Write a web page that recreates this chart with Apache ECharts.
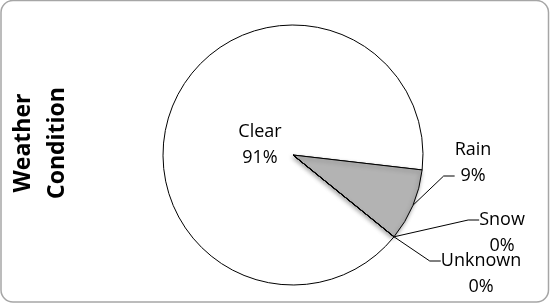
<!DOCTYPE html>
<html>
<head>
<meta charset="utf-8">
<style>
	html,body{ margin:0; padding:0; background:#fff;}
	#mainBox{ width:550px; height:303px;}
</style>
</head>
<body>
<div id="mainBox"></div>
<script src="https://cdn.jsdelivr.net/npm/echarts@6/dist/echarts.min.js"></script>
<script>
var categories=['Clear','Rain','Snow','Unknown'];
var shares=[91,9,0,0];
var sliceColors=['#ffffff','#b3b3b3','#ffffff','#ffffff'];
var titleLines=['Weather','Condition'];

// label centres (x,y); a blank line above/below shifts where the leader line meets the text
var labelSpots=[[260,145],[473,176],[502,220],[481,261]];
var blankLine=['','after','before','before'];

var myChart=echarts.init(document.getElementById('mainBox'));

var seriesData=[];
for(var i=0;i<categories.length;i++){
	var item={
		name:categories[i],
		value:shares[i],
		itemStyle:{color:sliceColors[i]}
	};
	if(i==0){
		item.label={position:'inside'};
		item.labelLine={show:false};
	}
	if(i==1){
		item.itemStyle.shadowColor='rgba(0,0,0,0.35)';
		item.itemStyle.shadowBlur=4;
		item.itemStyle.shadowOffsetX=-1;
		item.itemStyle.shadowOffsetY=2;
	}
	seriesData.push(item);
}

var op={
	animation:false,
	backgroundColor:'#fff',
	graphic:[{
		type:'rect',
		z:-1,
		shape:{x:1,y:0.5,width:547.5,height:301.5,r:12},
		style:{fill:'none',stroke:'#a6a6a6',lineWidth:1.5}
	},{
		type:'text',
		x:40,
		y:143,
		rotation:Math.PI/2,
		style:{
			text:titleLines.join('\n'),
			fontFamily:'"Open Sans"',
			fontWeight:'bold',
			fontSize:23,
			lineHeight:34,
			align:'center',
			verticalAlign:'middle',
			fill:'#000'
		}
	}],
	series:[{
		type:'pie',
		center:[293,155],
		radius:130,
		startAngle:-39,
		clockwise:true,
		avoidLabelOverlap:false,
		itemStyle:{borderColor:'#000',borderWidth:1},
		emphasis:{disabled:true},
		label:{
			show:true,
			position:'outside',
			color:'#000',
			fontFamily:'"Open Sans"',
			fontSize:18,
			lineHeight:26,
			align:'center',
			formatter:function(p){
				var txt=p.name+'\n'+Math.round(p.percent)+'%';
				var b=blankLine[p.dataIndex];
				if(b=='after')txt=txt+'\n ';
				if(b=='before')txt=' \n'+txt;
				return txt;
			}
		},
		labelLine:{
			show:true,
			length:10,
			length2:11,
			lineStyle:{color:'#000',width:1}
		},
		labelLayout:function(p){
			var s=labelSpots[p.dataIndex];
			return {x:s[0],y:s[1],align:'center',verticalAlign:'middle'};
		},
		data:seriesData
	}]
};
myChart.setOption(op);
</script>
</body>
</html>
